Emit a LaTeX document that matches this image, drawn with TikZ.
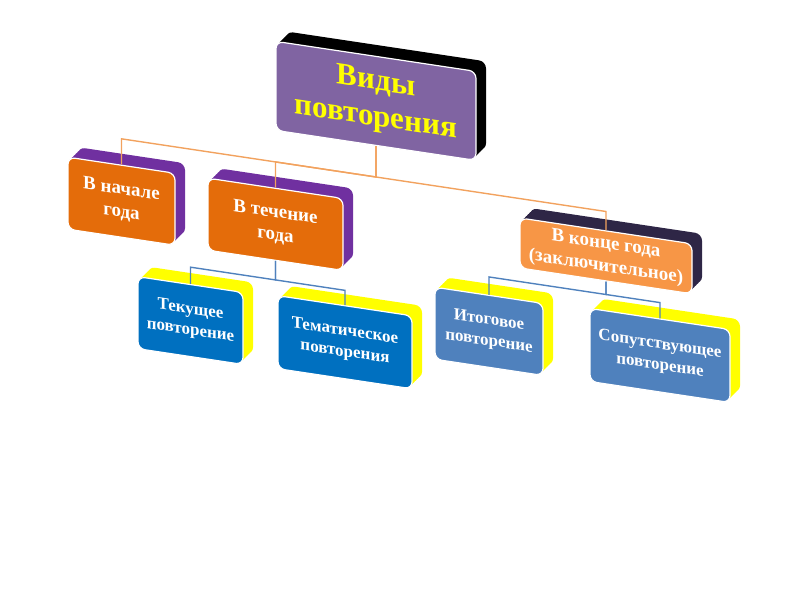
\documentclass[tikz,border=0pt]{standalone}
\usepackage{fontspec}
\setmainfont{Liberation Serif}
\usepackage{tikz}
\usetikzlibrary{shadows}
\definecolor{violetface}{HTML}{8064A2}
\definecolor{darkorange}{HTML}{E46C0A}
\definecolor{lightorange}{HTML}{F79646}
\definecolor{deepblue}{HTML}{0070C0}
\definecolor{steelblue}{HTML}{4F81BD}
\definecolor{plum}{HTML}{7030A0}
\definecolor{nightside}{HTML}{2E2646}
\definecolor{lemon}{HTML}{FFFF00}
\definecolor{wire}{HTML}{F2A25E}
\tikzset{
  deep/.style={
    general shadow={fill=#1,shadow xshift=2pt,shadow yshift=2pt},
    general shadow={fill=#1,shadow xshift=4pt,shadow yshift=4pt},
    general shadow={fill=#1,shadow xshift=6pt,shadow yshift=6pt},
    general shadow={fill=#1,shadow xshift=8pt,shadow yshift=8pt},
    general shadow={fill=#1,shadow xshift=10pt,shadow yshift=10pt}},
  face/.style={draw=white,line width=1.2pt,rounded corners=7pt,inner sep=0pt,align=center,text=white},
  midfont/.style={font=\fontsize{19}{23}\selectfont\bfseries},
  lowfont/.style={font=\fontsize{17}{21}\selectfont\bfseries},
  orangeline/.style={wire,line width=1.4pt},
  blueline/.style={steelblue,line width=1.4pt},
}
\begin{document}
\begin{tikzpicture}[x=1pt,y=-1pt]
\useasboundingbox (0,0) rectangle (800,600);
\begin{scope}[yslant=-0.15,transform shape]
% top box
\node[face,deep=black,fill=violetface,text=lemon,minimum width=200pt,minimum height=89pt,font=\fontsize{31}{36}\selectfont\bfseries] (vidy) at (376,44.5) {Виды\\повторения};
% second row
\node[face,deep=plum,fill=darkorange,midfont,minimum width=107pt,minimum height=72pt] (nachalo) at (121.5,183) {В начале\\года};
\node[face,deep=plum,fill=darkorange,midfont,minimum width=135pt,minimum height=72pt] (techenie) at (275.5,183) {В течение\\года};
\node[face,deep=nightside,fill=lightorange,midfont,minimum width=172pt,minimum height=50pt] (konec) at (606,165) {В конце года\\(заключительное)};
% third row
\node[face,deep=lemon,fill=deepblue,lowfont,minimum width=105pt,minimum height=72pt] (tekushchee) at (190.5,292) {Текущее\\повторение};
\node[face,deep=lemon,fill=deepblue,lowfont,minimum width=134pt,minimum height=73pt] (tematich) at (345,290.5) {Тематическое\\повторения};
\node[face,deep=lemon,fill=steelblue,lowfont,minimum width=108pt,minimum height=72pt] (itogovoe) at (489,258) {Итоговое\\повторение};
\node[face,deep=lemon,fill=steelblue,lowfont,minimum width=140pt,minimum height=73pt] (soputstv) at (660,256.5) {Сопутствующее\\повторение};
% links
\draw[orangeline] (vidy.south) -- ++(0,31) -- ++(-254.5,0) -- (nachalo.north);
\draw[orangeline] (vidy.south) -- ++(0,31) -- ++(-100.5,0) -- (techenie.north);
\draw[orangeline] (vidy.south) -- ++(0,31) -- ++(230,0) -- (konec.north);
\draw[blueline] (techenie.south) -- ++(0,19) -- ++(-85,0) -- (tekushchee.north);
\draw[blueline] (techenie.south) -- ++(0,19) -- ++(69.5,0) -- (tematich.north);
\draw[blueline] (konec.south) -- ++(0,13) -- ++(-117,0) -- (itogovoe.north);
\draw[blueline] (konec.south) -- ++(0,13) -- ++(54,0) -- (soputstv.north);
\end{scope}
\end{tikzpicture}
\end{document}
